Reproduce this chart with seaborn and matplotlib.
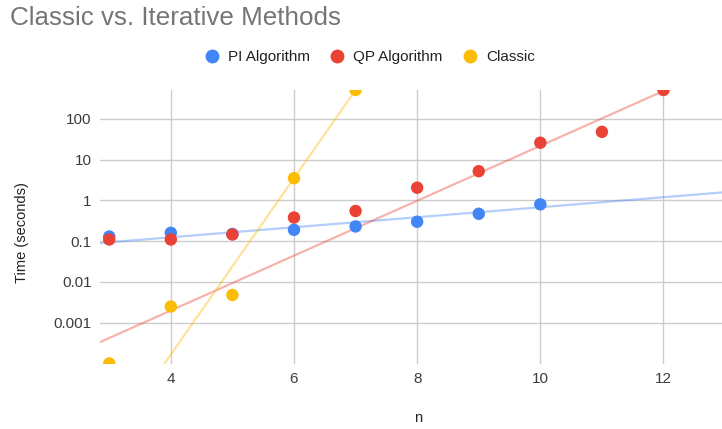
import numpy as np
import pandas as pd
import matplotlib
matplotlib.use("Agg")
import matplotlib.pyplot as plt
from matplotlib.lines import Line2D
import seaborn as sns

# ---- data ----
pi_n = [3, 4, 5, 6, 7, 8, 9, 10]
pi_time = [0.13, 0.16, 0.15, 0.19, 0.23, 0.30, 0.47, 0.80]
qp_n = [3, 4, 5, 6, 7, 8, 9, 10, 11, 12]
qp_time = [0.11, 0.11, 0.146, 0.38, 0.55, 2.05, 5.2, 26, 48, 510]
classic_n = [3, 4, 5, 6, 7]
classic_time = [0.0001, 0.0025, 0.0048, 3.5, 510]

series_names = ["PI Algorithm", "QP Algorithm", "Classic"]
colors = {"PI Algorithm": "#4285F4", "QP Algorithm": "#EA4335", "Classic": "#FBBC04"}

title = "Classic vs. Iterative Methods"
xlabel = "n"
ylabel = "Time (seconds)"
x_ticks = [4, 6, 8, 10, 12]
y_ticks = [0.001, 0.01, 0.1, 1, 10, 100]
y_tick_labels = ["0.001", "0.01", "0.1", "1", "10", "100"]

df = pd.concat([
    pd.DataFrame({"n": pi_n, "time": pi_time, "series": "PI Algorithm"}),
    pd.DataFrame({"n": qp_n, "time": qp_time, "series": "QP Algorithm"}),
    pd.DataFrame({"n": classic_n, "time": classic_time, "series": "Classic"}),
], ignore_index=True)


def exp_fit(x, y):
    """Exponential trendline y = exp(a + b x): log-space fit weighted by y."""
    x = np.asarray(x, float)
    y = np.asarray(y, float)
    b, a = np.polyfit(x, np.log(y), 1, w=np.sqrt(y))
    return a, b


sns.set_theme(style="white")
plt.rcParams["font.family"] = ["Liberation Sans", "DejaVu Sans"]

fig = plt.figure(figsize=(7.22, 4.29), dpi=100)
ax = fig.add_axes([100 / 722, 1 - 363.5 / 429, 1 - 100 / 722, (363.5 - 90) / 429])

xmin, xmax = 2.85, 12.95
ymin, ymax = 1e-4, 510

# exponential trendlines
xs = np.linspace(xmin, xmax, 200)
trend_rows = []
for name, xv, yv in [("PI Algorithm", pi_n, pi_time),
                     ("QP Algorithm", qp_n, qp_time),
                     ("Classic", classic_n, classic_time)]:
    a, b = exp_fit(xv, yv)
    trend_rows.append(pd.DataFrame({"n": xs, "time": np.exp(a + b * xs), "series": name}))
trend = pd.concat(trend_rows, ignore_index=True)
sns.lineplot(data=trend, x="n", y="time", hue="series", palette=colors,
             hue_order=series_names, alpha=0.4, linewidth=1.6, legend=False,
             ax=ax, zorder=2, sort=False, estimator=None)

sns.scatterplot(data=df, x="n", y="time", hue="series", palette=colors,
                hue_order=series_names, s=80, linewidth=0, legend=False,
                ax=ax, zorder=3)

ax.set_yscale("log")
ax.set_xlim(xmin, xmax)
ax.set_ylim(ymin, ymax)
ax.set_xticks(x_ticks)
ax.set_xticklabels([str(t) for t in x_ticks])
ax.set_yticks(y_ticks)
ax.set_yticklabels(y_tick_labels)
ax.minorticks_off()
ax.grid(True, color="#cccccc", linewidth=1)
ax.set_axisbelow(True)
for sp in ax.spines.values():
    sp.set_visible(False)
ax.tick_params(axis="both", length=0, labelsize=11, labelcolor="#3c3c3c")
ax.tick_params(axis="y", pad=6)
ax.tick_params(axis="x", pad=6)

ax.set_xlabel(xlabel, fontsize=10.5, color="#222222")
ax.set_ylabel(ylabel, fontsize=10.5, color="#222222")
ax.xaxis.set_label_coords((418 - 100) / 622, (363.5 - 418) / 273.5)
ax.xaxis.label.set_va("center")
ax.yaxis.set_label_coords((22 - 100) / 622, (363.5 - 233) / 273.5)
ax.yaxis.label.set_va("center")

fig.text(10 / 722, 1 - 18 / 429, title, fontsize=18.7, color="#757575",
         ha="left", va="center")

handles = [Line2D([], [], marker="o", linestyle="", markersize=10,
                  markerfacecolor=colors[s], markeredgewidth=0, label=s)
           for s in series_names]
fig.legend(handles=handles, loc="center", bbox_to_anchor=(370 / 722, 1 - 57 / 429),
           ncol=3, frameon=False, fontsize=11, handletextpad=0.6,
           columnspacing=1.35, handlelength=0.9, labelcolor="#222222",
           borderpad=0, borderaxespad=0)

fig.savefig("out.png", dpi=100)
